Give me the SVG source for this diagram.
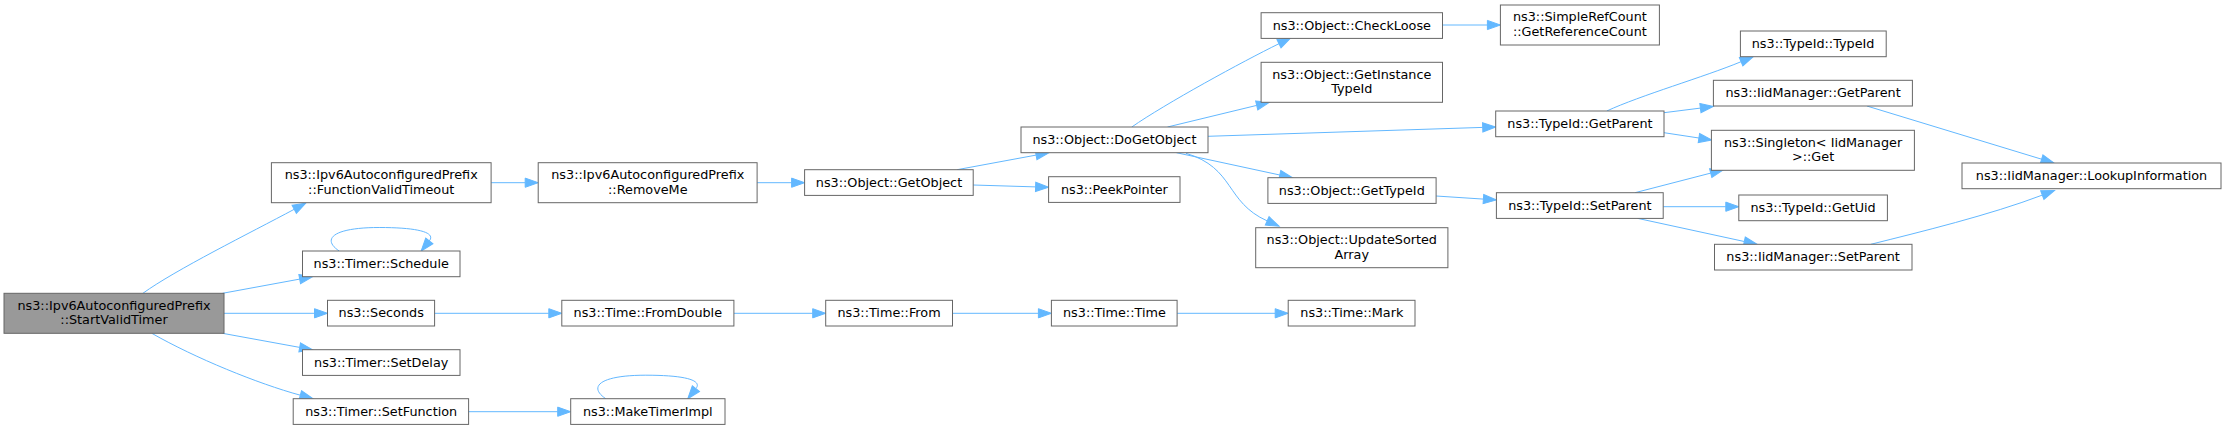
<svg xmlns="http://www.w3.org/2000/svg" width="2225" height="430" viewBox="0 0 2225 430">
<style>
.n rect{fill:#ffffff;stroke:#666666;stroke-width:1}
.n.start rect{fill:#999999}
.n text{font-family:"DejaVu Sans","Liberation Sans",sans-serif;font-size:12.8px;fill:#000000;text-anchor:middle}
.e path{fill:none;stroke:#63b8ff;stroke-width:1;marker-end:url(#ah)}
</style>
<defs>
<marker id="ah" viewBox="0 0 13 10" refX="0" refY="5" markerWidth="13" markerHeight="10" markerUnits="userSpaceOnUse" orient="auto" overflow="visible">
<path d="M0,0.4 L13,5 L0,9.6 z" fill="#63b8ff" stroke="#63b8ff" stroke-width="1"/>
</marker>
</defs>
<rect x="0" y="0" width="2225" height="430" fill="#ffffff"/>
<g id="edges" class="e">
<path d="M142.9,293.3 C175,270 250,233 294.2,209.3"/>
<path d="M222.5,293.3 L299.7,279.1"/>
<path d="M224,313.3 L314.5,313.3"/>
<path d="M222.5,333.3 L299.7,347.4"/>
<path d="M151.8,333.3 C195,358 258,383.7 300.3,395.2"/>
<path d="M339.2,251 C321.2,239 333.2,227.5 379.2,227.5 C421.2,227.5 435.6,233.1 429.3,240.9"/>
<path d="M491.1,182.7 L525.2,182.7"/>
<path d="M434.6,313.3 L548.8,313.3"/>
<path d="M468.6,411.7 L557.7,411.7"/>
<path d="M605.8,398.7 C587.8,386.7 599.8,375.2 645.8,375.2 C687.8,375.2 702.2,380.8 695.9,388.6"/>
<path d="M757.1,182.7 L791.6,182.7"/>
<path d="M733.9,313.3 L812.7,313.3"/>
<path d="M952.5,313.3 L1038.4,313.3"/>
<path d="M957.1,169.7 L1036.1,155.1"/>
<path d="M973.2,185 L1035.6,186.9"/>
<path d="M1131.8,127 C1165,103.8 1243,61.3 1279,43.7"/>
<path d="M1167.5,127 L1256.7,105.4"/>
<path d="M1207.9,136.3 L1482.7,127.4"/>
<path d="M1176.4,152.7 L1279.8,175"/>
<path d="M1186,153.3 C1235,168 1225,202 1267.2,220.9"/>
<path d="M1177.1,313.3 L1275.2,313.3"/>
<path d="M1442.5,25 L1487.4,25"/>
<path d="M1436.1,196 L1483.4,199.1"/>
<path d="M1606.8,111 C1640,95.5 1704.1,77 1741.1,61.7"/>
<path d="M1664,112.7 L1700.4,108.1"/>
<path d="M1664,132.7 L1698.9,138"/>
<path d="M1635,192.7 L1710.7,173.1"/>
<path d="M1663.2,206.7 L1725.8,206.7"/>
<path d="M1637.4,218.3 L1744.3,241.5"/>
<path d="M1866.9,106 L2041.6,159.2"/>
<path d="M1870.8,244.3 C1920,232 1990,215 2042.3,195.1"/>
</g>
<g id="n_start" class="n start"><rect x="4" y="293.3" width="220" height="40"/><text x="114" y="309.5">ns3::Ipv6AutoconfiguredPrefix</text><text x="114" y="324.3">::StartValidTimer</text></g>
<g id="n_fvt" class="n"><rect x="271.4" y="162.7" width="219.7" height="40"/><text x="381.2" y="178.9">ns3::Ipv6AutoconfiguredPrefix</text><text x="381.2" y="193.7">::FunctionValidTimeout</text></g>
<g id="n_schedule" class="n"><rect x="302.5" y="251" width="157.5" height="25.7"/><text x="381.2" y="268">ns3::Timer::Schedule</text></g>
<g id="n_seconds" class="n"><rect x="327.5" y="300.3" width="107.1" height="25.7"/><text x="381.2" y="317.3">ns3::Seconds</text></g>
<g id="n_setdelay" class="n"><rect x="302.5" y="349.7" width="157.5" height="25.7"/><text x="381.2" y="366.7">ns3::Timer::SetDelay</text></g>
<g id="n_setfunction" class="n"><rect x="293.2" y="398.7" width="175.4" height="25.7"/><text x="381.2" y="415.7">ns3::Timer::SetFunction</text></g>
<g id="n_removeme" class="n"><rect x="538.2" y="162.7" width="218.9" height="40"/><text x="647.8" y="178.9">ns3::Ipv6AutoconfiguredPrefix</text><text x="647.8" y="193.7">::RemoveMe</text></g>
<g id="n_fromdouble" class="n"><rect x="561.8" y="300.3" width="172.1" height="25.7"/><text x="647.8" y="317.3">ns3::Time::FromDouble</text></g>
<g id="n_maketimerimpl" class="n"><rect x="570.7" y="398.7" width="154.3" height="25.7"/><text x="647.8" y="415.7">ns3::MakeTimerImpl</text></g>
<g id="n_getobject" class="n"><rect x="804.6" y="169.7" width="168.6" height="25.7"/><text x="889" y="186.7">ns3::Object::GetObject</text></g>
<g id="n_from" class="n"><rect x="825.7" y="300.3" width="126.8" height="25.7"/><text x="889" y="317.3">ns3::Time::From</text></g>
<g id="n_dogetobject" class="n"><rect x="1021" y="127" width="187" height="25.7"/><text x="1114.4" y="144">ns3::Object::DoGetObject</text></g>
<g id="n_peekpointer" class="n"><rect x="1048.6" y="176.7" width="131.4" height="25.7"/><text x="1114.4" y="193.7">ns3::PeekPointer</text></g>
<g id="n_time" class="n"><rect x="1051.4" y="300.3" width="125.7" height="25.7"/><text x="1114.4" y="317.3">ns3::Time::Time</text></g>
<g id="n_checkloose" class="n"><rect x="1261.1" y="12.7" width="181.4" height="25.7"/><text x="1351.8" y="29.7">ns3::Object::CheckLoose</text></g>
<g id="n_getinstancetypeid" class="n"><rect x="1261.1" y="62.3" width="181.4" height="40"/><text x="1351.8" y="78.5">ns3::Object::GetInstance</text><text x="1351.8" y="93.3">TypeId</text></g>
<g id="n_gettypeid" class="n"><rect x="1267.9" y="177.7" width="168.2" height="25.7"/><text x="1351.8" y="194.7">ns3::Object::GetTypeId</text></g>
<g id="n_updatesortedarray" class="n"><rect x="1255.7" y="227.7" width="192.2" height="40"/><text x="1351.8" y="243.9">ns3::Object::UpdateSorted</text><text x="1351.8" y="258.7">Array</text></g>
<g id="n_mark" class="n"><rect x="1288.2" y="300.3" width="126.8" height="25.7"/><text x="1351.8" y="317.3">ns3::Time::Mark</text></g>
<g id="n_simplerefcount" class="n"><rect x="1500.4" y="5" width="159" height="40"/><text x="1579.9" y="21.2">ns3::SimpleRefCount</text><text x="1579.9" y="36">::GetReferenceCount</text></g>
<g id="n_typeid_getparent" class="n"><rect x="1495.7" y="111" width="168.3" height="25.7"/><text x="1579.9" y="128">ns3::TypeId::GetParent</text></g>
<g id="n_typeid_setparent" class="n"><rect x="1496.4" y="192.7" width="166.8" height="25.7"/><text x="1579.9" y="209.7">ns3::TypeId::SetParent</text></g>
<g id="n_typeid_typeid" class="n"><rect x="1740.4" y="31" width="145.8" height="25.7"/><text x="1813.1" y="48">ns3::TypeId::TypeId</text></g>
<g id="n_iid_getparent" class="n"><rect x="1713.4" y="80.3" width="199" height="25.7"/><text x="1813.1" y="97.3">ns3::IidManager::GetParent</text></g>
<g id="n_singleton" class="n"><rect x="1711.4" y="130.3" width="203" height="40"/><text x="1813.1" y="146.5">ns3::Singleton&lt; IidManager</text><text x="1813.1" y="161.3">&gt;::Get</text></g>
<g id="n_getuid" class="n"><rect x="1738.8" y="195" width="148.6" height="25.7"/><text x="1813.1" y="212">ns3::TypeId::GetUid</text></g>
<g id="n_iid_setparent" class="n"><rect x="1714.5" y="244.3" width="197.5" height="25.7"/><text x="1813.1" y="261.3">ns3::IidManager::SetParent</text></g>
<g id="n_lookup" class="n"><rect x="1962" y="163" width="259" height="25.7"/><text x="2091.5" y="180">ns3::IidManager::LookupInformation</text></g>
</svg>
